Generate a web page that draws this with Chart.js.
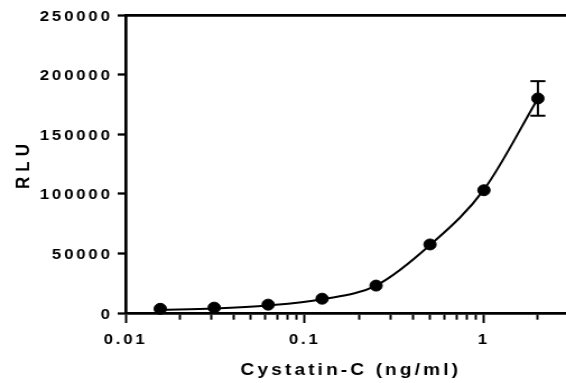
<!DOCTYPE html>
<html>
<head>
<meta charset="utf-8">
<script src="https://cdn.jsdelivr.net/npm/chart.js@4/dist/chart.umd.min.js"></script>
<style>
  body { margin: 0; background: #fff; overflow: hidden; }
  /* the original picture is stretched sideways, so draw narrow and widen */
  canvas { display: block; transform: scaleX(1.120792); transform-origin: 0 0; }
</style>
</head>
<body>
<canvas id="curve" width="505" height="383" style="width:505px;height:383px"></canvas>
<script>
// concentrations (ng/ml) and measured RLU
var conc = [0.015625, 0.03125, 0.0625, 0.125, 0.25, 0.5, 1, 2];
var rluMean = [3500, 4500, 7000, 12000, 23000, 57500, 103000, 180000];
var rluFit = [2700, 3800, 6300, 11500, 23000, 57000, 103500, 180000];
// error bar on the top standard
var errConc = 2;
var errLow = 165500;
var errHigh = 194500;

var xTicks = [0.01, 0.02, 0.03, 0.04, 0.05, 0.06, 0.07, 0.08, 0.09,
              0.1, 0.2, 0.3, 0.4, 0.5, 0.6, 0.7, 0.8, 0.9, 1, 2];
var xMajor = [0.01, 0.1, 1];
var xLabels = ['0.01', '0.1', '1'];
var yTicks = [0, 50000, 100000, 150000, 200000, 250000];

var xMin = 0.01, xMax = 2.87;

function pts(xs, ys) {
  return xs.map(function (x, i) { return { x: x, y: ys[i] }; });
}

// spaced-out lettering like the original, plus small nudges
var tickSpacing = '2.5px';
var titleSpacing = { x: '2.8px', y: '5px' };
var titleShift = { x: [4.5, 0], y: [0, 0] };
var labelShift = { x: [0, 0], y: [0, 1.5] };

function wrap(s, name, before) {
  var orig = s[name];
  s[name] = function () {
    var c = this.ctx;
    c.save();
    before(c);
    orig.apply(this, arguments);
    c.restore();
  };
}

var spacing = {
  id: 'spacing',
  beforeLayout: function (chart) { chart.ctx.letterSpacing = tickSpacing; },
  afterLayout: function (chart) {
    ['x', 'y'].forEach(function (id) {
      var s = chart.scales[id];
      if (s._spaced) return;
      wrap(s, 'drawTitle', function (c) {
        c.letterSpacing = titleSpacing[id];
        c.translate(titleShift[id][0], titleShift[id][1]);
      });
      wrap(s, 'drawLabels', function (c) {
        c.letterSpacing = tickSpacing;
        c.translate(labelShift[id][0], labelShift[id][1]);
      });
      s._spaced = true;
    });
  },
  beforeDraw: function (chart) { chart.ctx.letterSpacing = tickSpacing; }
};

function noPad(s) {
  s.paddingLeft = 0; s.paddingRight = 0; s.paddingTop = 0; s.paddingBottom = 0;
}

var font = { family: 'Liberation Sans', weight: 'bold', size: 15 };
var titleFont = { family: 'Liberation Sans', weight: 'bold', size: 17 };

var ctx = document.getElementById('curve').getContext('2d');
var chart = new Chart(ctx, {
  type: 'scatter',
  data: {
    datasets: [{
      // fit line
      data: pts(conc, rluFit),
      showLine: true,
      borderColor: '#000',
      borderWidth: 2,
      pointRadius: 0,
      cubicInterpolationMode: 'monotone',
      clip: false
    }, {
      // error bar
      data: [{ x: errConc, y: errLow }, { x: errConc, y: errHigh }],
      showLine: true,
      borderColor: '#000',
      borderWidth: 2,
      pointStyle: 'line',
      pointRadius: 6.7,
      pointBorderWidth: 2,
      pointBorderColor: '#000',
      clip: false
    }, {
      // means
      data: pts(conc, rluMean),
      showLine: false,
      pointRadius: 5.5,
      pointBackgroundColor: '#000',
      pointBorderColor: '#000',
      pointBorderWidth: 1,
      clip: false
    }]
  },
  options: {
    responsive: false,
    animation: false,
    layout: { padding: 0, autoPadding: false },
    plugins: { legend: { display: false }, tooltip: { enabled: false } },
    scales: {
      x: {
        type: 'logarithmic',
        position: 'bottom',
        min: xMin,
        max: xMax,
        afterBuildTicks: function (s) {
          s.ticks = xTicks.map(function (v) { return { value: v }; });
        },
        afterFit: function (s) { s.height = 70; noPad(s); },
        ticks: {
          autoSkip: false,
          maxRotation: 0,
          padding: 8,
          color: '#000',
          font: font,
          callback: function (v) {
            var k = xMajor.indexOf(v);
            return k < 0 ? '' : xLabels[k];
          }
        },
        grid: {
          drawOnChartArea: false,
          tickLength: 10,
          tickWidth: 2,
          tickColor: '#000',
          tickBorderDash: function (c) {
            return c.tick && xMajor.indexOf(c.tick.value) >= 0 ? [] : [5, 20];
          }
        },
        border: { color: '#000', width: 2.7 },
        title: {
          display: true,
          text: 'Cystatin-C (ng/ml)',
          color: '#000',
          font: titleFont,
          padding: { top: 0, bottom: 2 }
        }
      },
      x2: {
        type: 'logarithmic',
        position: 'top',
        min: xMin,
        max: xMax,
        afterFit: function (s) { s.height = 15; noPad(s); },
        ticks: { display: false },
        grid: { display: false, drawTicks: false },
        border: { color: '#000', width: 2.7 }
      },
      y: {
        min: 0,
        max: 250000,
        afterBuildTicks: function (s) {
          s.ticks = yTicks.map(function (v) { return { value: v }; });
        },
        afterFit: function (s) { s.width = 112; noPad(s); },
        ticks: {
          padding: 4.5,
          color: '#000',
          font: font,
          callback: function (v) { return String(v); }
        },
        grid: {
          drawOnChartArea: false,
          tickLength: 7,
          tickWidth: 2.3,
          tickColor: '#000'
        },
        border: { color: '#000', width: 2.7 },
        title: {
          display: true,
          text: 'RLU',
          color: '#000',
          font: titleFont,
          padding: { top: 11, bottom: 0 }
        }
      }
    }
  },
  plugins: [spacing]
});
chart.draw();
</script>
</body>
</html>
